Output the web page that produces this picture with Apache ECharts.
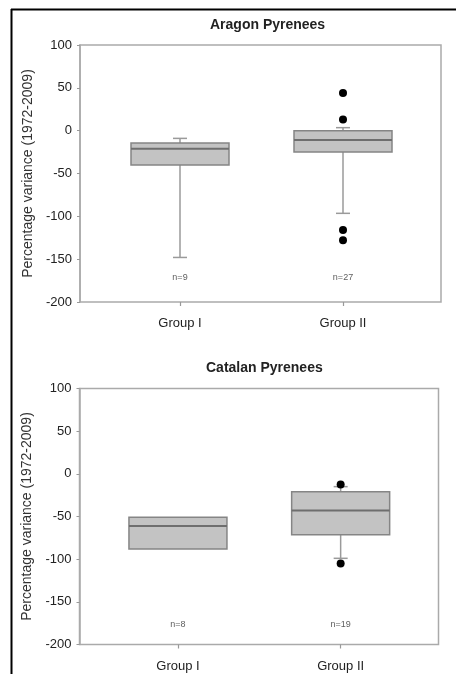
<!DOCTYPE html>
<html>
<head>
<meta charset="utf-8">
<script src="https://cdn.jsdelivr.net/npm/echarts@6/dist/echarts.min.js"></script>
<style>
  html, body { margin: 0; padding: 0; background: #fff; }
  #main { width: 456px; height: 674px; }
</style>
</head>
<body>
<div id="main"></div>
<script>
// data
var categories = ['Group I', 'Group II'];
var yMin = -200, yMax = 100, yStep = 50;

// [min, Q1, median, Q3, max]
var aragonBoxes = [[-148, -40, -21, -14.5, -9], [-96.5, -25, -11, 0, 3.5]];
var aragonOutliers = [[1, 44], [1, 13], [1, -116], [1, -128]];
var aragonCounts = ['n=9', 'n=27'];

var catalanBoxes = [[-88, -88, -61, -51, -51], [-99, -71.5, -43, -21, -15]];
var catalanOutliers = [[1, -12.5], [1, -105]];
var catalanCounts = ['n=8', 'n=19'];

var myChart = echarts.init(document.getElementById('main'));

var FONT = 'Liberation Sans, Arial, sans-serif';

// custom box drawing: short whisker caps like the original
function renderBox(params, api) {
    var x = api.value(0);
    var pMin = api.coord([x, api.value(1)]);
    var pQ1 = api.coord([x, api.value(2)]);
    var pMed = api.coord([x, api.value(3)]);
    var pQ3 = api.coord([x, api.value(4)]);
    var pMax = api.coord([x, api.value(5)]);
    var half = 49, cap = 7;
    var cx = pMed[0];
    var kids = [];
    var wStyle = { stroke: '#9a9a9a', lineWidth: 1.5 };
    if (api.value(1) < api.value(2)) {
        kids.push({ type: 'line', shape: { x1: cx, y1: pQ1[1], x2: cx, y2: pMin[1] }, style: wStyle });
        kids.push({ type: 'line', shape: { x1: cx - cap, y1: pMin[1], x2: cx + cap, y2: pMin[1] }, style: wStyle });
    }
    if (api.value(5) > api.value(4)) {
        kids.push({ type: 'line', shape: { x1: cx, y1: pQ3[1], x2: cx, y2: pMax[1] }, style: wStyle });
        kids.push({ type: 'line', shape: { x1: cx - cap, y1: pMax[1], x2: cx + cap, y2: pMax[1] }, style: wStyle });
    }
    kids.push({
        type: 'rect',
        shape: { x: cx - half, y: pQ3[1], width: half * 2, height: pQ1[1] - pQ3[1] },
        style: { fill: '#c3c3c3', stroke: '#858585', lineWidth: 1.5 }
    });
    kids.push({ type: 'line', shape: { x1: cx - half, y1: pMed[1], x2: cx + half, y2: pMed[1] },
        style: { stroke: '#6e6e6e', lineWidth: 2 } });
    return { type: 'group', children: kids };
}

function panel(idx, frame, inner, boxes, outliers, counts, countY) {
    var g0 = idx * 2, g1 = idx * 2 + 1;
    return {
        grid: [
            { left: frame.left, top: frame.top, width: frame.width, height: frame.height,
              show: true, borderColor: '#aaaaaa', borderWidth: 1.5, backgroundColor: 'transparent' },
            { left: inner.left, top: frame.top, width: inner.width, height: frame.height }
        ],
        xAxis: [
            { gridIndex: g0, type: 'value', show: false, min: 0, max: 1 },
            { gridIndex: g1, type: 'category', data: categories, position: 'bottom',
              axisLine: { show: false, onZero: false },
              axisTick: { show: true, alignWithLabel: true, length: 4, lineStyle: { color: '#999', width: 1.2 } },
              axisLabel: { color: '#222', fontSize: 13, fontFamily: FONT, margin: 15 } }
        ],
        yAxis: [
            { gridIndex: g0, type: 'value', min: yMin, max: yMax, interval: yStep,
              name: 'Percentage variance (1972-2009)', nameLocation: 'middle', nameRotate: 90, nameGap: 44,
              nameTextStyle: { color: '#333', fontSize: 14, fontFamily: FONT },
              axisLine: { show: true, lineStyle: { color: '#aaaaaa', width: 1.5 } },
              axisTick: { show: true, length: 3, lineStyle: { color: '#999' } },
              splitLine: { show: false },
              axisLabel: { color: '#222', fontSize: 13, fontFamily: FONT, margin: 8 } },
            { gridIndex: g1, type: 'value', min: yMin, max: yMax, show: false, splitLine: { show: false } }
        ],
        series: [
            { type: 'custom', xAxisIndex: g1, yAxisIndex: g1, renderItem: renderBox,
              encode: { x: 0, y: [1, 2, 3, 4, 5] },
              data: boxes.map(function (b, i) { return [i].concat(b); }) },
            { type: 'scatter', xAxisIndex: g1, yAxisIndex: g1, symbolSize: 8,
              itemStyle: { color: '#000', opacity: 1 }, data: outliers },
            { type: 'scatter', xAxisIndex: g1, yAxisIndex: g1, symbolSize: 0, silent: true,
              label: { show: true, position: 'inside', color: '#333', fontSize: 9, fontFamily: FONT,
                       formatter: function (p) { return p.data[2]; } },
              data: counts.map(function (c, i) { return [i, countY, c]; }) }
        ]
    };
}

var topPanel = panel(0, { left: 80, top: 45, width: 361, height: 257 },
    { left: 98.5, width: 326 }, aragonBoxes, aragonOutliers, aragonCounts, -172);
var botPanel = panel(1, { left: 79.5, top: 388.5, width: 359, height: 256 },
    { left: 96.6, width: 325.4 }, catalanBoxes, catalanOutliers, catalanCounts, -177);

var option = {
    backgroundColor: '#fff',
    animation: false,
    title: [
        { text: 'Aragon Pyrenees', left: 205, top: 13,
          textStyle: { fontSize: 14, fontWeight: 'bold', color: '#222', fontFamily: FONT } },
        { text: 'Catalan Pyrenees', left: 201, top: 356,
          textStyle: { fontSize: 14, fontWeight: 'bold', color: '#222', fontFamily: FONT } }
    ],
    graphic: [
        { type: 'line', shape: { x1: 11, y1: 9.5, x2: 456, y2: 9.5 }, style: { stroke: '#000', lineWidth: 2 } },
        { type: 'line', shape: { x1: 11.5, y1: 9, x2: 11.5, y2: 674 }, style: { stroke: '#000', lineWidth: 2 } }
    ],
    grid: topPanel.grid.concat(botPanel.grid),
    xAxis: topPanel.xAxis.concat(botPanel.xAxis),
    yAxis: topPanel.yAxis.concat(botPanel.yAxis),
    series: topPanel.series.concat(botPanel.series)
};

myChart.setOption(option);
</script>
</body>
</html>
